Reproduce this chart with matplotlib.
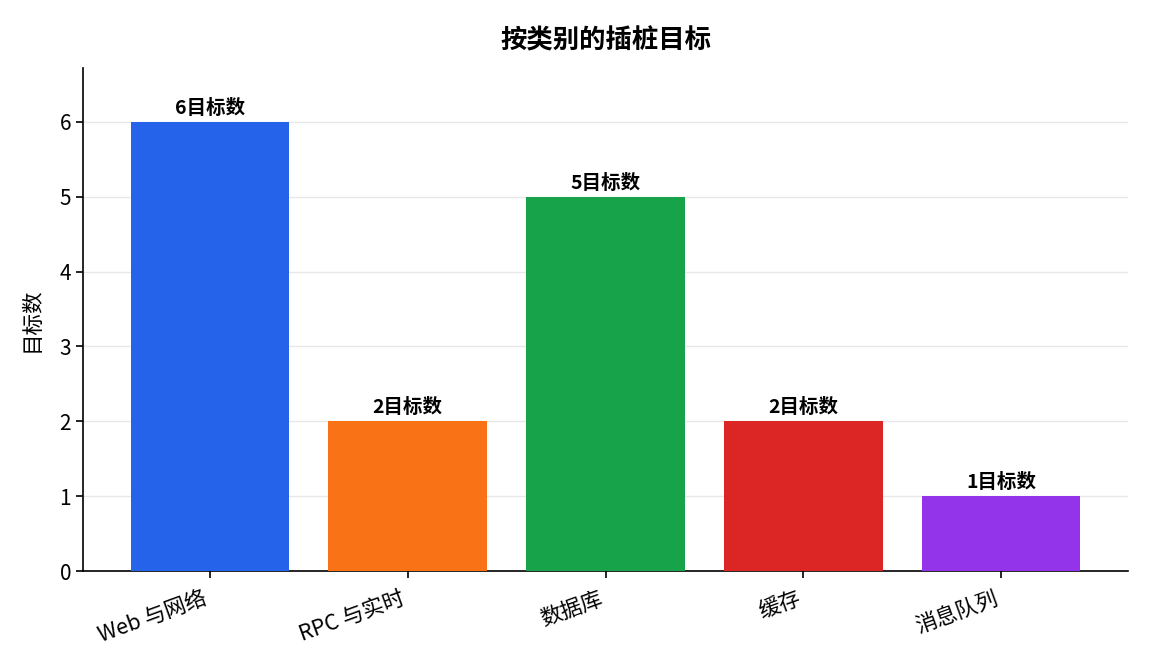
import matplotlib
matplotlib.use("Agg")
import matplotlib.pyplot as plt

plt.rcParams['font.family'] = ['Noto Sans CJK SC', 'DejaVu Sans']

categories = ["Web 与网络", "RPC 与实时", "数据库", "缓存", "消息队列"]
values = [6, 2, 5, 2, 1]
colors = ["#2563eb", "#f97316", "#16a34a", "#dc2626", "#9333ea"]
title = "按类别的插桩目标"
ylabel = "目标数"
suffix = "目标数"

fig = plt.figure(figsize=(11.52, 6.72), dpi=100)
ax = fig.add_axes([83/1152, 1-571/672, (1128-83)/1152, (571-68)/672])

x = list(range(len(categories)))
bars = ax.bar(x, values, width=0.8, color=colors, zorder=3)
ax.set_ylim(0, max(values) * 1.12)
ax.yaxis.grid(True, color="#e8e8e8", linewidth=1, zorder=0)
ax.set_axisbelow(True)
for s in ["top", "right"]:
    ax.spines[s].set_visible(False)
ax.spines["left"].set_linewidth(1.2)
ax.spines["bottom"].set_linewidth(1.2)

for b, v in zip(bars, values):
    ax.annotate(f"{v}{suffix}", (b.get_x() + b.get_width()/2, v),
                xytext=(0, 3), textcoords="offset points",
                ha="center", va="bottom", fontsize=14, fontweight="bold")

ax.set_xticks(x)
ax.set_xticklabels(categories, rotation=20, ha="right", fontsize=15.5)
ax.tick_params(axis="y", labelsize=15)
ax.tick_params(axis="both", length=5, width=1.2)
ax.tick_params(axis="x", pad=7)
ax.set_ylabel(ylabel, fontsize=15.5, labelpad=12)
ax.set_title(title, fontsize=19, fontweight="bold", pad=14)

fig.savefig("out.png", dpi=100)
